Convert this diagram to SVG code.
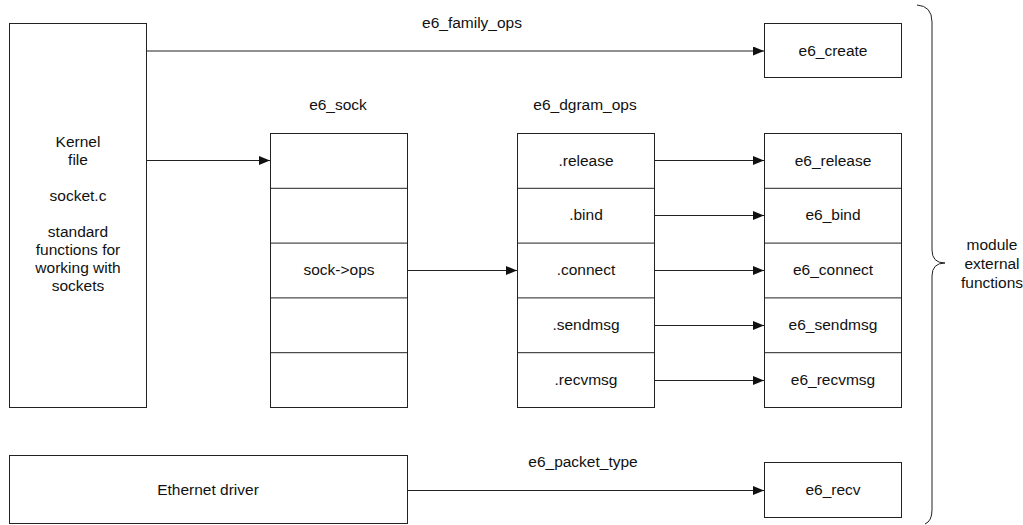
<svg xmlns="http://www.w3.org/2000/svg" width="1023" height="525" viewBox="0 0 1023 525">
  <style>
    .box { fill: #ffffff; stroke: #222222; stroke-width: 1; }
    .sep { stroke: #222222; stroke-width: 1; fill: none; }
    .edge { stroke: #222222; stroke-width: 1; fill: none; marker-end: url(#arrow); }
    .plain { stroke: #222222; stroke-width: 1; fill: none; }
    text { font-family: "Liberation Sans", Arial, sans-serif; font-size: 15.5px; fill: #111111; text-anchor: middle; }
  </style>
  <defs>
    <marker id="arrow" viewBox="0 0 11 9" refX="11" refY="4.5" markerWidth="11" markerHeight="9" markerUnits="userSpaceOnUse" orient="auto">
      <path d="M0,0 L11,4.5 L0,9 Z" fill="#111111"/>
    </marker>
  </defs>

  <rect width="1023" height="525" fill="#ffffff"/>

  <!-- kernel side -->
  <g id="kernel">
    <rect class="box" x="9.5" y="23.5" width="137" height="384"/>
    <text x="78" y="147">Kernel</text>
    <text x="78" y="165">file</text>
    <text x="78" y="201">socket.c</text>
    <text x="78" y="237">standard</text>
    <text x="78" y="255">functions for</text>
    <text x="78" y="273">working with</text>
    <text x="78" y="291">sockets</text>
  </g>

  <g id="ethernet-driver">
    <rect class="box" x="9.5" y="455.5" width="398" height="68"/>
    <text x="208" y="495">Ethernet driver</text>
  </g>

  <!-- e6_sock structure -->
  <g id="e6-sock">
    <text x="338" y="110">e6_sock</text>
    <rect class="box" x="270.5" y="133.5" width="137" height="274"/>
    <line class="sep" x1="270.5" y1="188.3" x2="407.5" y2="188.3"/>
    <line class="sep" x1="270.5" y1="243.1" x2="407.5" y2="243.1"/>
    <line class="sep" x1="270.5" y1="297.9" x2="407.5" y2="297.9"/>
    <line class="sep" x1="270.5" y1="352.7" x2="407.5" y2="352.7"/>
    <text x="339" y="275">sock-&gt;ops</text>
  </g>

  <!-- e6_dgram_ops table -->
  <g id="e6-dgram-ops">
    <text x="585" y="110">e6_dgram_ops</text>
    <rect class="box" x="517.5" y="133.5" width="137" height="274"/>
    <line class="sep" x1="517.5" y1="188.3" x2="654.5" y2="188.3"/>
    <line class="sep" x1="517.5" y1="243.1" x2="654.5" y2="243.1"/>
    <line class="sep" x1="517.5" y1="297.9" x2="654.5" y2="297.9"/>
    <line class="sep" x1="517.5" y1="352.7" x2="654.5" y2="352.7"/>
    <text x="586" y="166">.release</text>
    <text x="586" y="220">.bind</text>
    <text x="586" y="275">.connect</text>
    <text x="586" y="330">.sendmsg</text>
    <text x="586" y="385">.recvmsg</text>
  </g>

  <!-- module functions -->
  <g id="e6-create">
    <rect class="box" x="764.5" y="23.5" width="137" height="54"/>
    <text x="833" y="56">e6_create</text>
  </g>

  <g id="e6-functions">
    <rect class="box" x="764.5" y="133.5" width="137" height="274"/>
    <line class="sep" x1="764.5" y1="188.3" x2="901.5" y2="188.3"/>
    <line class="sep" x1="764.5" y1="243.1" x2="901.5" y2="243.1"/>
    <line class="sep" x1="764.5" y1="297.9" x2="901.5" y2="297.9"/>
    <line class="sep" x1="764.5" y1="352.7" x2="901.5" y2="352.7"/>
    <text x="833" y="166">e6_release</text>
    <text x="833" y="220">e6_bind</text>
    <text x="833" y="275">e6_connect</text>
    <text x="833" y="330">e6_sendmsg</text>
    <text x="833" y="385">e6_recvmsg</text>
  </g>

  <g id="e6-recv">
    <rect class="box" x="764.5" y="462.5" width="137" height="55"/>
    <text x="833" y="495">e6_recv</text>
  </g>

  <g id="module-brace">
    <path class="plain" d="M917,5 Q932,6 932,22 L932,250 Q932,263 945,263 Q932,263 932,276 L932,510 Q932,521 925,524"/>
    <text x="992" y="250">module</text>
    <text x="992" y="269">external</text>
    <text x="992" y="288">functions</text>
  </g>

  <!-- connectors -->
  <g id="connectors">
    <line class="edge" x1="146.5" y1="51" x2="764" y2="51"/>
    <text x="472" y="28">e6_family_ops</text>
    <line class="edge" x1="146.5" y1="160.5" x2="270" y2="160.5"/>
    <line class="edge" x1="407.5" y1="270.5" x2="517" y2="270.5"/>
    <line class="edge" x1="654.5" y1="160.5" x2="764" y2="160.5"/>
    <line class="edge" x1="654.5" y1="215.5" x2="764" y2="215.5"/>
    <line class="edge" x1="654.5" y1="270.5" x2="764" y2="270.5"/>
    <line class="edge" x1="654.5" y1="325.5" x2="764" y2="325.5"/>
    <line class="edge" x1="654.5" y1="380.5" x2="764" y2="380.5"/>
    <line class="edge" x1="407.5" y1="490.5" x2="764" y2="490.5"/>
    <text x="583" y="467">e6_packet_type</text>
  </g>
</svg>
